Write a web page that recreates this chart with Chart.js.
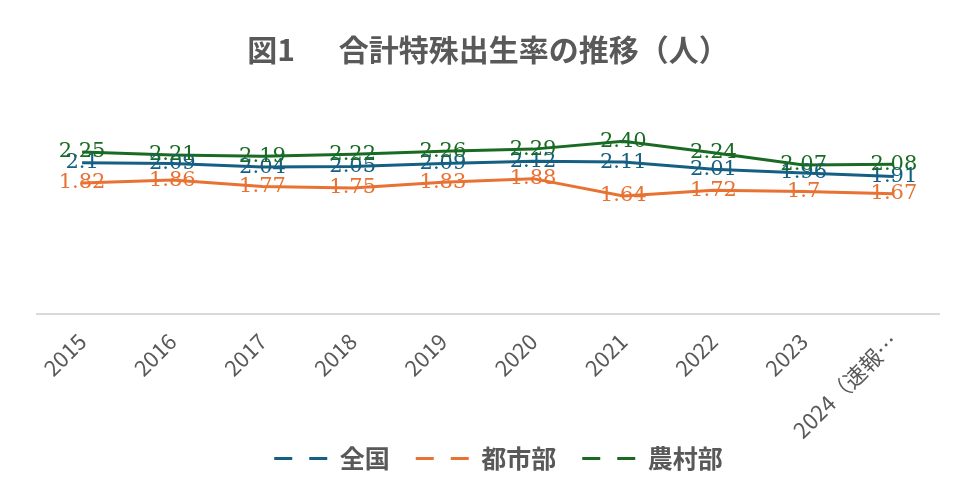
<!DOCTYPE html>
<html>
<head>
<meta charset="utf-8">
<script src="https://cdn.jsdelivr.net/npm/chart.js@4/dist/chart.umd.min.js"></script>
<style>
  body { margin: 0; background: #fff; }
  #wrap { width: 958px; height: 488px; }
</style>
</head>
<body>
<div id="wrap"><canvas id="chart" width="958" height="488"></canvas></div>
<script>
// data
const years = ['2015', '2016', '2017', '2018', '2019', '2020', '2021', '2022', '2023', '2024（速報…'];
const zenkoku = ['2.1', '2.09', '2.04', '2.05', '2.09', '2.12', '2.11', '2.01', '1.96', '1.91'];
const toshibu = ['1.82', '1.86', '1.77', '1.75', '1.83', '1.88', '1.64', '1.72', '1.7', '1.67'];
const nousonbu = ['2.25', '2.21', '2.19', '2.22', '2.26', '2.29', '2.40', '2.24', '2.07', '2.08'];

const gray = '#595959';

// value labels drawn centred on each point, like the excel data labels
const pointLabels = {
  id: 'pointLabels',
  afterDatasetsDraw(chart) {
    let ctx = chart.ctx;
    ctx.save();
    ctx.font = '21px "DejaVu Serif"';
    ctx.textAlign = 'center';
    ctx.textBaseline = 'middle';
    chart.data.datasets.forEach((ds, i) => {
      let meta = chart.getDatasetMeta(i);
      ctx.fillStyle = ds.borderColor;
      meta.data.forEach((pt, j) => {
        ctx.fillText(ds.data[j], pt.x, pt.y);
      });
    });
    ctx.restore();
  }
};

let ctx = document.querySelector('#chart').getContext('2d');
let myChart = new Chart(ctx, {
  type: 'line',
  data: {
    labels: years,
    datasets: [
      { label: '全国', data: zenkoku, borderColor: '#156082', backgroundColor: '#156082', borderWidth: 3 },
      { label: '都市部', data: toshibu, borderColor: '#E97132', backgroundColor: '#E97132', borderWidth: 3 },
      { label: '農村部', data: nousonbu, borderColor: '#196B24', backgroundColor: '#196B24', borderWidth: 3 }
    ]
  },
  options: {
    responsive: false,
    animation: false,
    layout: { padding: { left: 37, right: 19, top: 10, bottom: 7 } },
    elements: { point: { radius: 0 }, line: { tension: 0 } },
    scales: {
      x: {
        offset: true,
        grid: { display: false },
        border: { display: true, color: '#d9d9d9', width: 2 },
        ticks: {
          autoSkip: false,
          minRotation: 45,
          maxRotation: 45,
          padding: 6,
          color: gray,
          font: { family: '"Noto Sans CJK JP"', size: 22 }
        },
        // fixed height so the plot bottom sits where excel put it
        afterFit: function(scale) { scale.height = 127; }
      },
      y: {
        display: false,
        min: 0,
        max: 3
      }
    },
    plugins: {
      title: {
        display: true,
        text: '図1　  合計特殊出生率の推移（人）',
        color: gray,
        font: { family: '"Noto Sans CJK JP"', size: 30, weight: 'bold' },
        padding: { top: 22, bottom: 30 }
      },
      legend: {
        position: 'bottom',
        labels: {
          usePointStyle: true,
          pointStyle: 'line',
          pointStyleWidth: 74,
          padding: 5,
          color: gray,
          font: { family: '"Noto Sans CJK JP"', size: 25, weight: 'bold' },
          generateLabels: function(chart) {
            let items = Chart.defaults.plugins.legend.labels.generateLabels(chart);
            for (let it of items) {
              // leading gap keeps the items apart, then two dashes
              it.lineDash = [0, 21, 18, 17, 18, 0];
              it.lineWidth = 3;
            }
            return items;
          }
        }
      },
      tooltip: { enabled: false }
    }
  },
  plugins: [pointLabels]
});
</script>
</body>
</html>
